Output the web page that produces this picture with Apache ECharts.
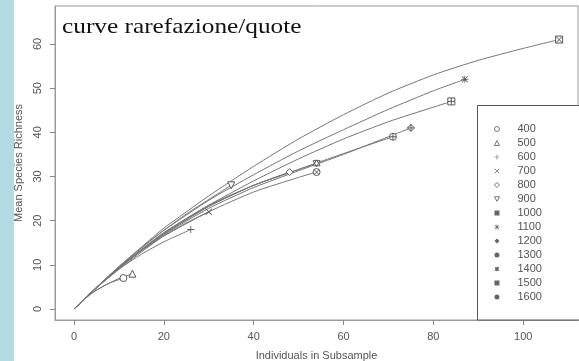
<!DOCTYPE html>
<html>
<head>
<meta charset="utf-8">
<script src="https://cdn.jsdelivr.net/npm/echarts@6/dist/echarts.min.js"></script>
<style>
  html, body { margin: 0; padding: 0; background: #fff; }
  #chart { width: 579px; height: 361px; }
</style>
</head>
<body>
<div id="chart"></div>
<script>
// quote (m) – one rarefaction curve each
const quote = ['400', '500', '600', '700', '800', '900', '1000', '1100', '1200', '1300', '1400', '1500', '1600']

// curve points: [individuals, mean richness]
const c400 = [[0, 0], [2, 1.9], [4, 3.6], [6, 4.9], [8, 5.9], [11, 7]]
const c500 = [[0, 0], [2, 1.9], [4, 3.6], [7, 5.4], [10, 6.9], [13, 8]]
const c600 = [[0, 0], [5, 4.8], [10, 9], [15, 12.4], [20, 15.2], [26, 18]]
const c700 = [[0, 0], [5, 4.8], [10, 9.3], [15, 13.2], [20, 16.6], [25, 19.5], [30, 22]]
const c800 = [[0, 0], [5, 4.8], [10, 9.4], [15, 13.5], [20, 17.3], [30, 23.5], [40, 28], [48, 31]]
const c900 = [[0, 0], [5, 4.9], [10, 9.6], [15, 13.9], [20, 17.8], [25, 21.5], [30, 24.8], [35, 28]]
const c1000 = [[0, 0], [5, 4.9], [10, 9.6], [15, 14], [20, 18.3], [30, 25.6], [40, 32.3], [50, 38.5], [60, 44], [70, 48.9], [80, 53], [90, 56.3], [100, 59], [108, 61]]
const c1100 = [[0, 0], [5, 4.9], [10, 9.5], [15, 13.8], [20, 17.8], [30, 24.6], [40, 30.4], [50, 35.8], [60, 40.6], [70, 45.2], [80, 49.4], [87, 52]]
const c1200 = [[0, 0], [5, 4.8], [10, 9.2], [15, 13.2], [20, 16.8], [30, 22.8], [40, 27.5], [50, 31.3], [60, 35], [70, 39], [75, 41]]
const c1300 = [[0, 0], [5, 4.8], [10, 9.2], [15, 13.3], [20, 17], [30, 23.3], [40, 28], [50, 31.6], [60, 35.2], [71, 39]]
const c1400 = [[0, 0], [5, 4.8], [10, 9.3], [15, 13.3], [20, 17], [30, 23.2], [40, 28], [50, 31.6], [54, 33]]
const c1500 = [[0, 0], [5, 4.8], [10, 9.3], [15, 13.4], [20, 17.2], [30, 23.5], [40, 29], [50, 34], [60, 38.5], [70, 42.4], [80, 45.7], [84, 47]]
const c1600 = [[0, 0], [5, 4.8], [10, 9], [15, 12.9], [20, 16.5], [30, 22], [40, 26.5], [50, 29.8], [54, 31]]

const curves = [c400, c500, c600, c700, c800, c900, c1000, c1100, c1200, c1300, c1400, c1500, c1600]

const xTicks = [0, 20, 40, 60, 80, 100]
const yTicks = [0, 10, 20, 30, 40, 50, 60]

// R-like pch shapes
const symbols = [
  'circle',
  'triangle',
  'path://M4.4,0h1.2v10h-1.2z M0,4.4h10v1.2h-10z',
  'path://M0.8,0L5,4.2L9.2,0L10,0.8L5.8,5L10,9.2L9.2,10L5,5.8L0.8,10L0,9.2L4.2,5L0,0.8Z',
  'diamond',
  'path://M0,0L10,0L5,9Z',
  'path://M0,0H10V10H0Z M0,0L10,10 M10,0L0,10',
  'path://M4.4,0h1.2v10h-1.2z M0,4.4h10v1.2h-10z M1.2,0.4L5,4.2L8.8,0.4L9.6,1.2L5.8,5L9.6,8.8L8.8,9.6L5,5.8L1.2,9.6L0.4,8.8L4.2,5L0.4,1.2Z',
  'path://M5,0L10,5L5,10L0,5Z M5,0V10 M0,5H10',
  'path://M0,5A5,5 0 1,1 10,5A5,5 0 1,1 0,5Z M5,0V10 M0,5H10',
  'path://M5,0L10,8.66L0,8.66Z M0,1.34L10,1.34L5,10Z',
  'path://M0,0H10V10H0Z M5,0V10 M0,5H10',
  'path://M0,5A5,5 0 1,1 10,5A5,5 0 1,1 0,5Z M1.5,1.5L8.5,8.5 M8.5,1.5L1.5,8.5'
]
const solid = [false, false, true, true, false, false, false, true, false, false, false, false, false]

const ink = '#5a5a5a'
const lineInk = '#777'

const markStyle = i => (solid[i]
  ? { color: ink, borderWidth: 0 }
  : { color: '#fff', borderColor: ink, borderWidth: 1 })

const chart = echarts.init(document.getElementById('chart'))

const series = quote.map((q, i) => ({
  name: q,
  type: 'line',
  smooth: 0.2,
  symbol: symbols[i],
  symbolSize: 7,
  showAllSymbol: true,
  data: curves[i].map((p, k) => (k === curves[i].length - 1 ? { value: p } : { value: p, symbol: 'none' })),
  lineStyle: { color: lineInk, width: 1 },
  itemStyle: markStyle(i),
  emphasis: { disabled: true },
  animation: false,
  z: 3
}))

const option = {
  backgroundColor: '#fff',
  animation: false,
  grid: {
    left: 55, right: 1, top: 6, bottom: 41,
    outerBoundsMode: 'none',
    containLabel: false,
    show: true, borderColor: '#9a9a9a', borderWidth: 1
  },
  xAxis: {
    type: 'value',
    min: -4.23,
    max: 112.2,
    name: 'Individuals in Subsample',
    nameLocation: 'middle',
    nameGap: 30,
    nameTextStyle: { fontFamily: 'Liberation Sans', fontSize: 11, color: '#555' },
    axisLine: { show: true, onZero: false, lineStyle: { color: '#9a9a9a' } },
    axisTick: { show: true, length: 5, customValues: xTicks, lineStyle: { color: '#888' } },
    axisLabel: { customValues: xTicks, margin: 11, fontFamily: 'Liberation Sans', fontSize: 11, color: '#555' },
    splitLine: { show: false }
  },
  yAxis: {
    type: 'value',
    min: -2.49,
    max: 68.6,
    name: 'Mean Species Richness',
    nameLocation: 'middle',
    nameGap: 29,
    nameTextStyle: { fontFamily: 'Liberation Sans', fontSize: 11, color: '#555' },
    axisLine: { show: true, onZero: false, lineStyle: { color: '#9a9a9a' } },
    axisTick: { show: true, length: 5, customValues: yTicks, lineStyle: { color: '#888' } },
    axisLabel: { customValues: yTicks, rotate: 90, margin: 12, fontFamily: 'Liberation Sans', fontSize: 11, color: '#555' },
    splitLine: { show: false }
  },
  legend: {
    orient: 'vertical',
    left: 494,
    top: 123,
    padding: 0,
    itemWidth: 5,
    itemHeight: 5,
    itemGap: 2,
    selectedMode: false,
    data: quote.map((q, i) => ({
      name: q,
      icon: symbols[i],
      itemStyle: solid[i] || i >= 6
        ? { color: '#666', borderWidth: 0 }
        : { color: '#fff', borderColor: '#666', borderWidth: 0.9 }
    })),
    textStyle: { fontFamily: 'Liberation Sans', fontSize: 11, color: '#555', lineHeight: 12, padding: [0, 0, 0, 13] },
    z: 10
  },
  graphic: [
    {
      type: 'rect',
      z: 0,
      shape: { x: 0, y: 0, width: 14, height: 361 },
      style: { fill: '#b3dce2' }
    },
    {
      type: 'rect',
      z: 5,
      shape: { x: 477.5, y: 105.5, width: 110, height: 214.5 },
      style: { fill: '#fff', stroke: '#555', lineWidth: 1 }
    },
    {
      type: 'text',
      z: 6,
      x: 62,
      y: 27,
      scaleX: 1.15,
      style: {
        text: 'curve rarefazione/quote',
        font: '22px "Liberation Serif", "Times New Roman", serif',
        fill: '#111',
        verticalAlign: 'middle'
      }
    }
  ],
  series: series
}

chart.setOption(option)
</script>
</body>
</html>
